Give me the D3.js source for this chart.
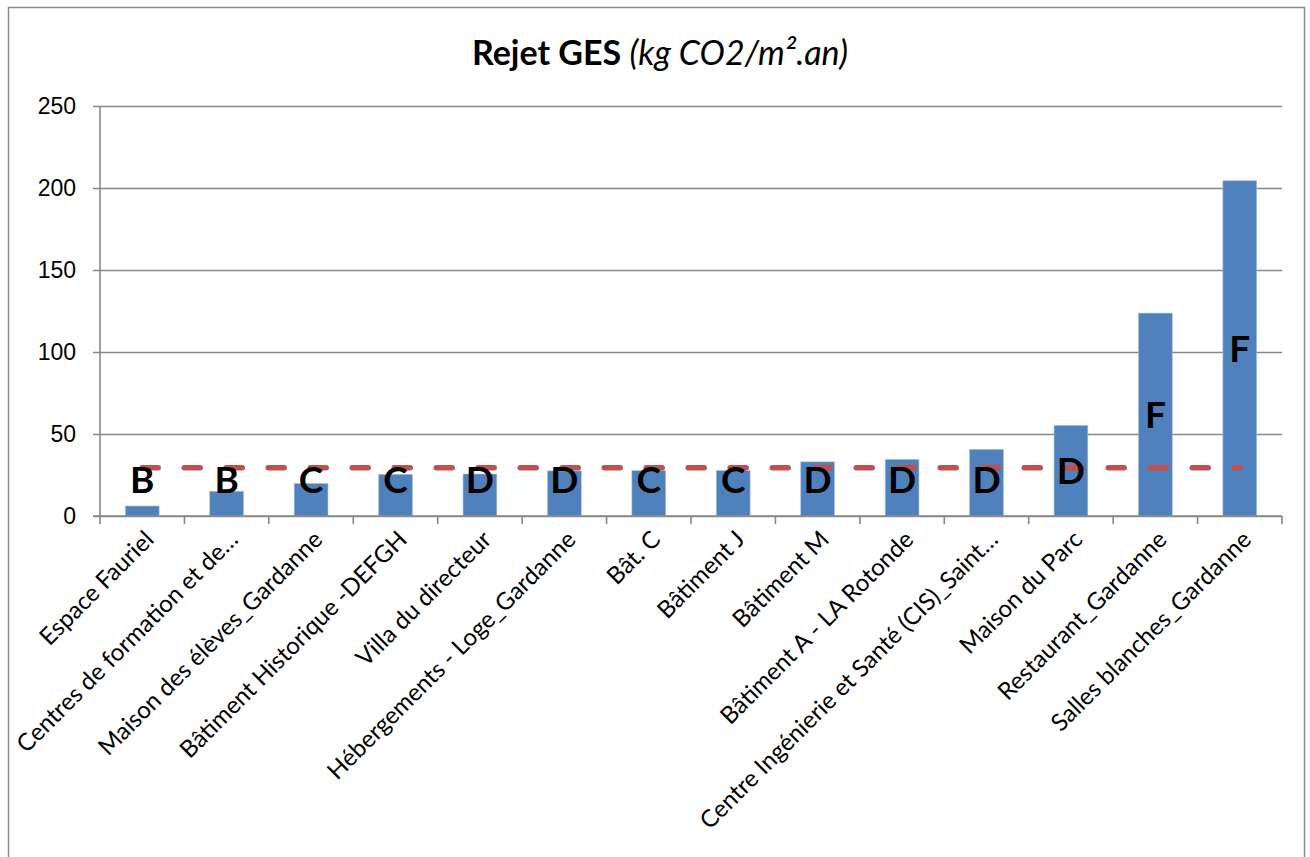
<!DOCTYPE html>
<html>
<head>
<meta charset="utf-8">
<script src="https://cdn.jsdelivr.net/npm/d3@7"></script>
<style>
  html, body { margin: 0; padding: 0; background: #fff; }
  svg { display: block; font-family: Lato, "Noto Sans", sans-serif; }
</style>
</head>
<body>
<svg id="chart" width="1310" height="857"></svg>
<script>
// Buildings, ordered by emissions
const categories = [
  "Espace Fauriel",
  "Centres de formation et de…",
  "Maison des élèves_Gardanne",
  "Bâtiment Historique -DEFGH",
  "Villa du directeur",
  "Hébergements - Loge_Gardanne",
  "Bât. C",
  "Bâtiment J",
  "Bâtiment M",
  "Bâtiment A - LA Rotonde",
  "Centre Ingénierie et Santé (CIS)_Saint…",
  "Maison du Parc",
  "Restaurant_Gardanne",
  "Salles blanches_Gardanne"
];
// GHG emissions, kg CO2 / m².year
const ges = [6.1, 15.1, 19.8, 25.4, 25.6, 27.5, 27.7, 27.7, 33.0, 34.5, 40.6, 55.2, 123.7, 204.4];
// Energy label class of each building
const classes = ["B", "B", "C", "C", "D", "D", "C", "C", "D", "D", "D", "D", "F", "F"];
// Reference level drawn as a dashed line
const reference = categories.map(() => 29.4);
const yTicks = [0, 50, 100, 150, 200, 250];

const svg = d3.select("#chart");
const m = { left: 100, right: 1282, top: 106, bottom: 516 };

// outer chart frame
svg.append("rect")
  .attr("x", 8.5).attr("y", 7.5)
  .attr("width", 1296).attr("height", 900)
  .attr("fill", "none").attr("stroke", "#8c8c8c").attr("stroke-width", 1.5);

// title
const title = svg.append("text")
  .attr("x", 660).attr("y", 65)
  .attr("text-anchor", "middle")
  .attr("font-size", 34)
  .attr("fill", "#000");
title.append("tspan").attr("font-weight", "bold").text("Rejet GES ");
title.append("tspan").attr("font-style", "italic").text("(kg CO2/m².an)");

const x = d3.scaleBand().domain(categories).range([m.left, m.right]).paddingInner(0.6).paddingOuter(0.3);
const xb = d3.scaleBand().domain(categories).range([m.left, m.right]);
const y = d3.scaleLinear().domain([0, 250]).range([m.bottom, m.top]);

// horizontal gridlines + left axis with ticks
const yAxis = d3.axisLeft(y).tickValues(yTicks).tickSize(m.right - m.left + 7).tickPadding(17).tickFormat(d3.format("d"));
const gy = svg.append("g").attr("transform", `translate(${m.right},0)`).call(yAxis);
gy.select(".domain").remove();
gy.selectAll(".tick line").attr("stroke", "#878787").attr("stroke-width", 1.6);
gy.selectAll(".tick text").attr("font-size", 23).attr("fill", "#000").attr("x", -(m.right - m.left) - 24);

svg.append("line")
  .attr("x1", m.left).attr("x2", m.left)
  .attr("y1", m.top).attr("y2", m.bottom)
  .attr("stroke", "#878787").attr("stroke-width", 1.6);

// bars
svg.append("g").selectAll("rect")
  .data(ges)
  .join("rect")
  .attr("x", (d, i) => x(categories[i]))
  .attr("width", x.bandwidth())
  .attr("y", d => y(d))
  .attr("height", d => y(0) - y(d))
  .attr("fill", "#4f81bd")
  .attr("stroke", "#a7bfde").attr("stroke-width", 0.6);

// category axis: boundary ticks between bands
const bounds = categories.map(c => xb(c)).concat([m.right]);
svg.append("g").selectAll("line")
  .data(bounds)
  .join("line")
  .attr("x1", d => d).attr("x2", d => d)
  .attr("y1", m.bottom).attr("y2", m.bottom + 8)
  .attr("stroke", "#878787").attr("stroke-width", 1.6);
svg.append("line")
  .attr("x1", m.left - 7).attr("x2", m.right)
  .attr("y1", y(0)).attr("y2", y(0))
  .attr("stroke", "#878787").attr("stroke-width", 1.6);

// rotated category labels
svg.append("g").selectAll("text")
  .data(categories)
  .join("text")
  .attr("transform", d => `translate(${xb(d) + xb.bandwidth() / 2 + 7},${m.bottom + 19}) rotate(-45)`)
  .attr("text-anchor", "end")
  .attr("dy", "0.35em")
  .attr("font-size", 24)
  .attr("fill", "#000")
  .text(d => d);

// reference dashed line
const line = d3.line()
  .x((d, i) => xb(categories[i]) + xb.bandwidth() / 2)
  .y(d => y(d));
svg.append("path")
  .datum(reference)
  .attr("d", line)
  .attr("fill", "none")
  .attr("stroke", "#c0504d")
  .attr("stroke-width", 5.5)
  .attr("stroke-linecap", "round")
  .attr("stroke-dasharray", "16,26");

// energy class labels, centred in each bar (kept above the axis for short bars)
svg.append("g").selectAll("text")
  .data(classes)
  .join("text")
  .attr("x", (d, i) => xb(categories[i]) + xb.bandwidth() / 2)
  .attr("y", (d, i) => Math.min(y(ges[i] / 2), y(0) - 36))
  .attr("dy", "0.36em")
  .attr("text-anchor", "middle")
  .attr("font-size", 37)
  .attr("font-weight", "bold")
  .attr("fill", "#000")
  .text(d => d);
</script>
</body>
</html>
